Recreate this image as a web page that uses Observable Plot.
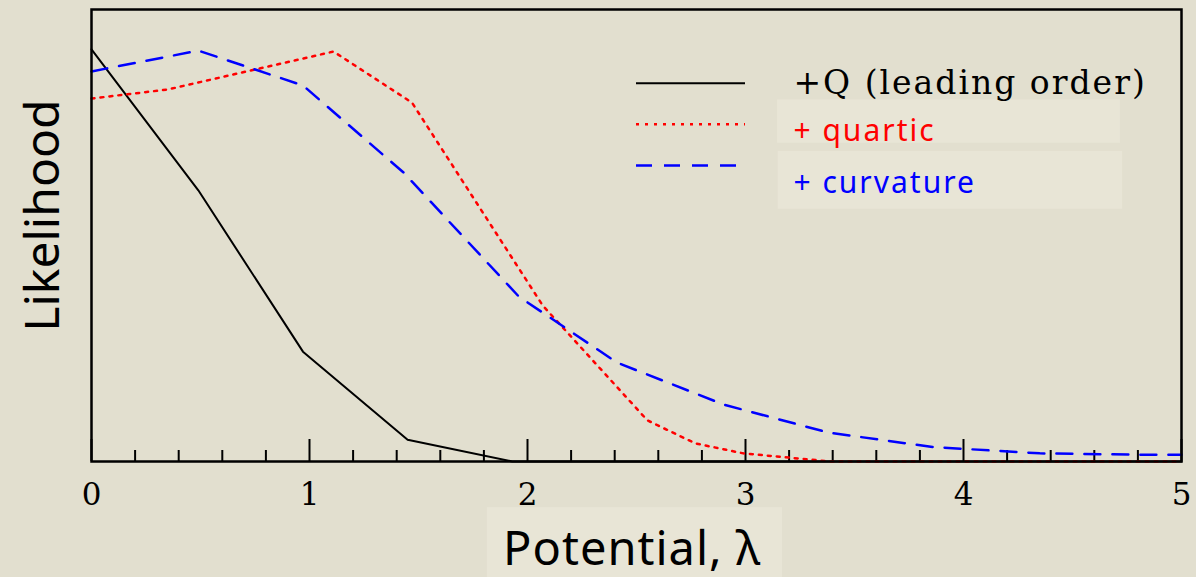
<!DOCTYPE html>
<html><head><meta charset="utf-8">
<script src="https://cdn.jsdelivr.net/npm/d3@7"></script>
<script src="https://cdn.jsdelivr.net/npm/@observablehq/plot@0.6"></script>
<style>html,body{margin:0;padding:0;background:#e2dfcf;}</style>
</head><body><div id="chart"></div>
<script>
// Data
const lambdaLeading = [0, 0.49, 0.97, 1.45, 1.93, 5];
const likeLeading   = [0.912, 0.60, 0.243, 0.048, 0, 0];
const lambdaQuartic = [0, 0.35, 1.11, 1.47, 2.07, 2.55, 2.77, 2.99, 3.39, 5];
const likeQuartic   = [0.803, 0.823, 0.907, 0.794, 0.345, 0.091, 0.04, 0.018, 0, 0];
const lambdaCurv    = [0, 0.49, 0.97, 1.43, 1.96, 2.41, 2.90, 3.38, 3.86, 4.35, 4.83, 5];
const likeCurv      = [0.863, 0.909, 0.832, 0.64, 0.365, 0.219, 0.126, 0.064, 0.032, 0.018, 0.015, 0.015];
const majorTicks = [0, 1, 2, 3, 4, 5];
const minorTicks = [0.2, 0.4, 0.6, 0.8, 1.2, 1.4, 1.6, 1.8, 2.2, 2.4, 2.6, 2.8, 3.2, 3.4, 3.6, 3.8, 4.2, 4.4, 4.6, 4.8];
const seriesNames = ["+Q (leading order)", "+ quartic", "+ curvature"];
const seriesColors = ["black", "red", "blue"];
const xLabel = "Potential, \u03bb";
const yLabel = "Likelihood";
// legend layout (in data units)
const legendLineX = [2.5, 3.0];
const legendLineY = [0.837, 0.746, 0.655];
const legendTextX = 3.22;
const legendTextY = [0.837, 0.73, 0.615];
const legendBoxes = [
  {x1: 3.147, x2: 4.72, y1: 0.704, y2: 0.80},
  {x1: 3.15, x2: 4.73, y1: 0.558, y2: 0.686}
];
const xLabelBox = {x1: 1.816, x2: 3.17, y1: -0.257, y2: -0.102};

const toRows = (xs, ys) => xs.map((x, i) => ({x, y: ys[i]}));
const leading = toRows(lambdaLeading, likeLeading);
const quartic = toRows(lambdaQuartic, likeQuartic);
const curv = toRows(lambdaCurv, likeCurv);

const bg = "#e2dfcf";
const boxFill = "#e8e5d6";
const sans = "'Noto Sans', 'DejaVu Sans', sans-serif";
const serif = "'DejaVu Serif', 'Liberation Serif', serif";

const chart = Plot.plot({
  width: 1196, height: 577,
  marginLeft: 91, marginRight: 15, marginTop: 9, marginBottom: 116,
  style: {background: bg, color: "black", overflow: "visible"},
  x: {domain: [0, 5], axis: null},
  y: {domain: [0, 1], axis: null},
  marks: [
    Plot.rect([xLabelBox], {x1: "x1", x2: "x2", y1: "y1", y2: "y2", fill: boxFill}),
    Plot.rect(legendBoxes, {x1: "x1", x2: "x2", y1: "y1", y2: "y2", fill: boxFill}),
    Plot.ruleX(minorTicks, {x: d => d, y1: 0, y2: 0, insetBottom: 11, stroke: "black", strokeWidth: 2}),
    Plot.ruleX(majorTicks, {x: d => d, y1: 0, y2: 0, insetBottom: 22, stroke: "black", strokeWidth: 2}),
    Plot.axisX(majorTicks, {tickSize: 0, tickPadding: 21, tickFormat: d3.format("d"), fontSize: 31, fontFamily: serif, label: null}),
    Plot.line(leading, {x: "x", y: "y", stroke: seriesColors[0], strokeWidth: 2}),
    Plot.line(quartic, {x: "x", y: "y", stroke: seriesColors[1], strokeWidth: 2.5, strokeDasharray: "3,6"}),
    Plot.line(curv, {x: "x", y: "y", stroke: seriesColors[2], strokeWidth: 2.5, strokeDasharray: "16,12"}),
    Plot.frame({stroke: "black", strokeWidth: 2.5}),
    Plot.ruleY([0], {y: () => legendLineY[0], x1: legendLineX[0], x2: legendLineX[1], stroke: seriesColors[0], strokeWidth: 2}),
    Plot.ruleY([0], {y: () => legendLineY[1], x1: legendLineX[0], x2: legendLineX[1], stroke: seriesColors[1], strokeWidth: 2.5, strokeDasharray: "3,6"}),
    Plot.ruleY([0], {y: () => legendLineY[2], x1: legendLineX[0], x2: legendLineX[1], stroke: seriesColors[2], strokeWidth: 2.5, strokeDasharray: "16,12"}),
    Plot.text([seriesNames[0]], {x: legendTextX, y: legendTextY[0], text: d => d, textAnchor: "start", fontSize: 33, fontFamily: serif, fill: seriesColors[0], className: "lg-serif"}),
    Plot.text([seriesNames[1]], {x: legendTextX, y: legendTextY[1], text: d => d, textAnchor: "start", fontSize: 30, fontFamily: sans, fill: seriesColors[1], className: "lg-sans"}),
    Plot.text([seriesNames[2]], {x: legendTextX, y: legendTextY[2], text: d => d, textAnchor: "start", fontSize: 30, fontFamily: sans, fill: seriesColors[2], className: "lg-sans"}),
    Plot.text([xLabel], {x: 2.48, y: -0.195, text: d => d, fontSize: 47, fontFamily: sans, className: "xlab"}),
    Plot.text([yLabel], {x: -0.22, y: 0.544, text: d => d, rotate: -90, fontSize: 48, fontFamily: sans})
  ]
});
d3.select(chart).selectAll(".lg-serif text").attr("letter-spacing", "2px");
d3.select(chart).selectAll(".lg-sans text").attr("letter-spacing", "2px");
d3.select(chart).selectAll(".xlab text").attr("letter-spacing", "1px");
document.getElementById("chart").appendChild(chart);
</script>
</body></html>
